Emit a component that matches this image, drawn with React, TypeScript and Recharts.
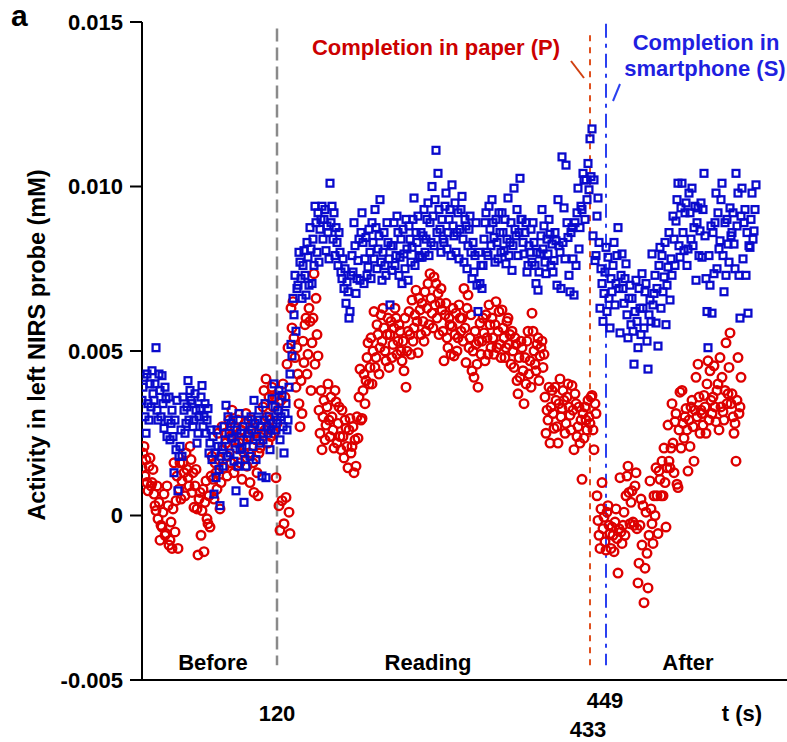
import { ScatterChart, Scatter, XAxis, YAxis, ReferenceLine } from "recharts";

// activity values in units of 0.001 mM, one sample per second starting at t = -15 s
const sampleStart = -15;
const samplePeriod = 1;

const paperValues = [
  1.45, 1.9, 2.1, 1.2, 1.7, 1.0, 0.75, 1.5, 1.75, 0.9,
  1.0, 1.4, 0.65, 0.3, 0.15, 0.9, -0.1, 0.4, -0.75, -0.3,
  -0.35, 0.1, 0.65, -0.6, -0.55, 0.9, 0.3, -0.9, -0.75, -0.2,
  -1.0, 0.2, 1.6, -0.5, 0.45, 1.2, -1.0, 0.8, 1.6, 0.5,
  1.05, 1.6, 1.3, 0.6, 1.9, 1.4, 1.15, 0.9, 2.1, 1.7,
  0.7, 1.3, 0.25, 0.9, 1.4, 0.2, -1.2, 0.5, 0.7, -0.6,
  0.15, 0.8, -1.1, 0.4, 1.05, -0.1, -0.25, 0.6, -0.35, 1.2,
  1.8, 1.1, 0.5, 1.6, 1.3, 0.8, 2.5, 1.7, 0.2, 1.0,
  2.7, 2.0, 1.45, 2.5, 2.2, 1.2, 1.8, 2.9, 2.4, 1.6,
  3.2, 2.4, 1.3, 2.7, 2.05, 1.5, 2.9, 2.2, 1.6, 2.6,
  1.1, 2.3, 1.9, 2.8, 3.1, 1.5, 2.4, 1.9, 1.0, 2.6,
  2.9, 1.6, 0.7, 2.5, 2.3, 1.3, 0.6, 1.9, 2.05, 2.7,
  2.5, 3.3, 3.8, 2.6, 4.15, 3.0, 2.2, 3.6, 2.9, 2.4,
  3.9, 3.3, 2.5, 3.6, 1.15, 2.8, 3.2, 0.3, -0.45, 3.5,
  0.45, 4.0, -0.25, 3.6, 0.55, 4.6, 5.1, 0.1, -0.55, 6.3,
  5.7, 6.5, 5.4, 4.8, 3.9, 5.1, 4.3, 3.4, 2.7, 4.1,
  3.1, 5.3, 4.65, 5.8, 6.0, 4.3, 4.9, 6.3, 5.9, 3.8,
  5.25, 6.0, 7.35, 4.6, 6.6, 5.5, 4.85, 3.2, 2.5, 3.8,
  2.0, 3.0, 3.5, 2.3, 2.75, 3.3, 4.0, 2.9, 2.4, 3.6,
  3.0, 2.6, 2.05, 3.8, 3.45, 2.2, 2.8, 3.3, 2.4, 2.0,
  3.2, 2.4, 1.75, 2.9, 2.65, 2.1, 1.45, 2.6, 2.95, 1.9,
  2.1, 2.7, 1.3, 2.3, 1.5, 3.0, 2.35, 3.6, 4.45, 2.9,
  2.95, 3.8, 4.3, 3.4, 4.1, 4.8, 5.25, 4.0, 4.5, 5.4,
  4.0, 5.0, 6.2, 4.5, 4.8, 5.8, 5.5, 4.3, 5.1, 6.1,
  5.3, 6.3, 5.7, 5.0, 4.7, 5.5, 6.0, 4.5, 5.5, 5.9,
  4.8, 5.2, 5.7, 6.3, 6.0, 4.9, 5.3, 5.8, 5.6, 5.0,
  4.7, 5.3, 4.4, 6.0, 3.9, 5.0, 5.6, 6.2, 5.5, 4.9,
  6.55, 5.3, 5.7, 6.1, 6.85, 5.9, 4.95, 6.6, 6.25, 5.5,
  6.45, 5.9, 5.3, 6.8, 5.6, 6.3, 7.05, 5.8, 7.35, 6.6,
  6.15, 5.7, 7.25, 6.4, 7.05, 6.0, 6.75, 5.5, 6.45, 6.9,
  6.25, 5.6, 4.7, 6.1, 6.45, 5.4, 5.1, 6.0, 5.8, 4.9,
  5.75, 6.3, 4.85, 5.5, 6.15, 5.0, 5.4, 6.4, 6.0, 5.6,
  6.0, 5.3, 6.9, 5.7, 4.65, 6.3, 6.7, 5.1, 5.4, 6.1,
  4.4, 5.0, 4.2, 5.6, 5.2, 4.6, 3.9, 5.3, 5.85, 4.9,
  5.3, 6.0, 5.55, 4.7, 6.1, 5.4, 4.9, 6.4, 5.8, 5.1,
  6.0, 5.4, 4.9, 5.8, 6.5, 5.1, 5.6, 6.2, 5.2, 4.8,
  6.25, 5.7, 5.4, 4.8, 5.1, 5.9, 6.0, 5.2, 5.5, 4.6,
  5.6, 5.0, 4.5, 5.4, 5.2, 4.1, 3.7, 4.8, 4.2, 5.3,
  5.1, 4.4, 3.4, 4.8, 4.0, 5.3, 5.6, 4.3, 4.7, 3.9,
  6.15, 5.6, 5.0, 4.6, 4.4, 5.2, 5.4, 4.1, 4.85, 5.1,
  5.3, 4.5, 4.9, 3.6, 2.5, 3.2, 2.9, 3.9, 2.2, 3.3,
  3.8, 3.1, 2.65, 3.9, 3.5, 2.7, 2.2, 3.4, 4.15, 3.0,
  3.25, 3.8, 3.5, 2.5, 2.8, 3.6, 4.0, 3.3, 3.05, 2.6,
  3.95, 3.2, 2.0, 3.7, 3.4, 2.4, 2.7, 3.3, 2.2, 2.9,
  1.1, 3.1, 2.35, 3.3, 2.9, 2.6, 3.5, 3.0, 2.8, 3.6,
  3.65, 2.6, 2.0, 3.4, 3.1, 0.6, -0.15, -0.6, -1.0, 0.2,
  1.0, -0.4, -0.05, -0.8, -1.05, 0.1, 0.3, -0.3, -0.55, -1.0,
  -0.35, -0.6, -1.1, -0.2, 0.2, -0.7, -1.75, -0.4, 1.15, -0.5,
  -0.85, -0.3, 0.1, -0.6, 0.6, 1.2, 1.5, 0.7, -0.25, 0.4,
  0.75, -0.2, -0.3, 0.9, 1.3, -0.4, -2.05, -1.45, -0.3, 0.5,
  -0.9, 0.3, -2.65, -1.6, 0.1, -1.15, -2.2, -0.6, 1.05, 0.2,
  -0.25, -0.85, 0.6, 0.0, 1.45, 0.6, -0.55, 1.35, 1.1, 0.6,
  1.65, 0.6, 2.05, 1.0, -0.35, 1.45, 2.75, 1.65, 1.45, 2.05,
  3.4, 2.2, 1.3, 2.85, 3.1, 0.95, 0.85, 2.6, 3.75, 2.05,
  3.8, 2.8, 2.35, 3.0, 3.25, 2.6, 1.35, 2.9, 2.1, 3.3,
  3.5, 2.7, 1.65, 3.2, 4.2, 3.0, 4.6, 3.6, 2.5, 3.2,
  3.1, 2.75, 3.65, 3.3, 2.5, 4.0, 4.7, 2.9, 4.4, 3.5,
  3.1, 3.6, 4.55, 3.3, 2.85, 3.8, 4.0, 2.6, 4.8, 3.3,
  4.2, 3.15, 2.9, 3.8, 5.25, 3.4, 3.7, 4.5, 5.55, 3.4,
  3.7, 3.0, 2.5, 2.8, 1.65, 3.5, 4.8, 3.1, 3.3, 4.2,
];

const phoneValues = [
  3.5, 3.9, 4.2, 3.0, 2.5, 4.3, 3.4, 2.9, 4.0, 3.3,
  4.4, 3.7, 3.5, 4.0, 5.1, 3.2, 2.9, 4.3, 3.8, 3.0,
  4.25, 3.4, 2.65, 3.9, 3.55, 2.4, 2.9, 3.6, 2.3, 2.8,
  3.2, 2.4, 1.3, 2.9, 2.0, 3.5, 0.75, 1.8, 2.1, 2.6,
  1.8, 3.6, 3.2, 2.5, 2.8, 3.3, 4.1, 2.9, 3.8, 3.5,
  3.4, 2.7, 2.9, 3.7, 3.2, 2.2, 2.5, 3.0, 3.25, 3.6,
  3.95, 2.7, 3.0, 3.4, 2.5, 2.9, 3.25, 1.9, 2.2, 2.6,
  1.7, 2.4, 0.65, 1.9, 1.15, 2.6, 2.1, 1.4, 0.3, 1.8,
  2.1, 1.5, 2.7, 2.3, 3.35, 1.8, 3.0, 2.5, 1.9, 2.8,
  2.35, 2.9, 1.65, 2.2, 0.75, 2.6, 1.5, 3.1, 2.0, 2.5,
  2.05, 2.7, 0.4, 1.7, 1.5, 2.3, 2.9, 2.5, 1.8, 3.0,
  2.6, 2.1, 3.5, 2.8, 1.7, 2.4, 2.9, 3.2, 2.2, 2.7,
  1.2, 2.3, 2.9, 3.4, 1.15, 2.7, 2.5, 3.0, 2.0, 2.6,
  3.55, 2.8, 4.0, 3.3, 2.6, 2.9, 3.2, 3.8, 2.3, 3.0,
  3.65, 2.7, 1.9, 3.1, 3.4, 2.6, 2.9, 3.9, 4.3, 5.2,
  4.85, 6.6, 6.1, 7.3, 5.6, 6.9, 7.0, 8.0, 7.7, 7.2,
  6.6, 7.6, 8.05, 7.3, 6.7, 8.3, 7.85, 7.0, 8.75, 8.1,
  7.05, 8.4, 7.6, 9.4, 8.9, 8.0, 9.2, 7.7, 8.7, 9.0,
  9.4, 8.4, 9.0, 9.3, 8.05, 8.8, 8.6, 7.8, 10.1, 8.9,
  9.4, 8.4, 9.2, 7.9, 8.75, 8.3, 7.6, 8.6, 8.0, 7.4,
  7.2, 7.8, 6.9, 7.5, 6.45, 7.1, 6.8, 6.0, 6.2, 7.3,
  7.9, 7.4, 8.9, 8.2, 6.75, 7.2, 7.75, 8.4, 7.15, 8.6,
  9.2, 8.3, 7.05, 7.8, 8.45, 7.3, 7.55, 8.7, 8.0, 7.2,
  8.9, 8.3, 7.8, 9.3, 8.75, 7.5, 8.1, 8.5, 9.6, 7.7,
  7.15, 8.0, 8.6, 7.6, 7.3, 8.9, 8.3, 7.8, 6.4, 8.2,
  7.45, 8.2, 8.9, 7.6, 7.9, 9.1, 8.6, 7.3, 7.85, 8.4,
  7.05, 8.7, 7.95, 7.5, 9.0, 8.1, 7.15, 8.8, 8.4, 7.7,
  8.15, 9.0, 9.65, 7.6, 8.6, 8.3, 9.1, 7.9, 7.85, 8.6,
  7.85, 8.5, 9.3, 8.0, 8.4, 9.0, 9.5, 7.9, 8.9, 8.3,
  10.0, 9.1, 8.2, 9.6, 11.1, 8.6, 10.4, 9.3, 8.7, 8.0,
  9.0, 8.4, 8.3, 9.4, 9.8, 8.1, 8.6, 9.0, 9.3, 7.9,
  10.05, 8.8, 8.5, 9.5, 8.0, 8.6, 9.2, 7.8, 8.7, 9.3,
  9.7, 8.4, 7.7, 9.0, 8.8, 7.5, 8.2, 8.7, 9.1, 8.0,
  7.2, 8.3, 7.4, 7.9, 8.9, 7.0, 6.2, 8.0, 7.05, 7.6,
  6.9, 7.6, 8.4, 8.9, 9.2, 8.0, 7.9, 9.4, 8.7, 8.2,
  9.6, 8.9, 8.45, 7.7, 9.0, 8.3, 7.8, 9.2, 8.6, 8.0,
  9.2, 8.6, 8.05, 9.0, 7.65, 8.4, 9.65, 7.9, 8.3, 8.9,
  7.45, 8.2, 9.95, 8.7, 8.5, 9.3, 7.9, 8.6, 10.25, 9.0,
  9.0, 8.3, 7.95, 8.6, 8.9, 7.4, 7.6, 8.2, 8.0, 8.7,
  7.7, 8.9, 8.3, 7.6, 7.05, 8.0, 6.85, 7.4, 7.95, 8.5,
  9.3, 8.1, 8.8, 7.7, 7.35, 8.4, 7.95, 9.0, 8.55, 7.6,
  8.25, 7.4, 7.75, 8.6, 8.35, 7.0, 9.6, 8.2, 8.0, 6.9,
  10.9, 8.3, 9.35, 7.8, 10.65, 8.9, 8.45, 7.3, 6.8, 8.6,
  8.75, 7.8, 6.7, 8.9, 7.6, 9.2, 9.95, 8.1, 8.75, 9.4,
  9.3, 10.4, 10.2, 9.0, 10.2, 9.6, 10.7, 9.9, 11.45, 10.3,
  11.75, 8.5, 10.2, 7.75, 7.9, 9.1, 9.65, 8.3, 6.3, 7.5,
  7.05, 5.9, 6.75, 7.4, 8.15, 6.2, 7.85, 6.6, 5.7, 7.2,
  6.8, 7.6, 8.3, 6.4, 7.05, 7.9, 8.75, 6.9, 5.55, 7.3,
  7.95, 6.9, 6.45, 7.2, 7.65, 6.1, 5.4, 6.6, 7.0, 5.8,
  6.6, 5.6, 4.6, 6.2, 7.15, 5.9, 5.1, 6.9, 6.3, 5.5,
  7.35, 6.3, 5.7, 6.8, 7.05, 5.3, 4.45, 6.1, 6.55, 5.9,
  7.95, 6.4, 6.75, 7.3, 5.85, 6.9, 5.15, 7.6, 8.15, 6.3,
  7.9, 6.8, 7.25, 8.3, 5.8, 7.0, 7.55, 8.6, 6.55, 7.8,
  7.3, 9.1, 8.4, 7.6, 8.95, 9.6, 10.1, 8.2, 7.85, 9.35,
  10.1, 8.6, 8.05, 9.2, 9.5, 7.6, 8.1, 9.8, 9.2, 8.4,
  9.95, 8.2, 8.75, 9.4, 7.15, 8.9, 9.35, 7.9, 8.65, 9.5,
  7.85, 9.3, 10.4, 8.5, 7.2, 6.2, 5.1, 7.9, 7.0, 8.8,
  6.15, 8.6, 7.35, 8.9, 9.8, 7.5, 9.2, 8.1, 8.35, 9.6,
  10.1, 7.9, 6.8, 8.9, 7.3, 9.0, 8.25, 7.7, 9.35, 8.5,
  8.6, 9.2, 8.25, 7.5, 10.4, 8.8, 9.8, 7.3, 6.0, 9.1,
  9.95, 7.8, 8.9, 9.3, 7.3, 8.6, 6.15, 8.2, 8.15, 9.0,
  9.8, 8.4, 8.65, 9.3, 10.05,
];

const yTicks = [-5, 0, 5, 10, 15];
const xTicks = [120, 433, 449];
const readingStart = 120;
const paperDone = 433;
const phoneDone = 449;

const toPoints = (values: number[]) =>
  values.map((v, i) => ({ t: sampleStart + i * samplePeriod, v }));

const paperData = toPoints(paperValues);
const phoneData = toPoints(phoneValues);

const FONT = '"Liberation Sans", Arial, sans-serif';
const RED = "#dd0000";
const BLUE = "#0a0acc";

const PaperMark = (p: any) => (
  <circle cx={p.cx} cy={p.cy} r={4.3} fill="none" stroke={RED} strokeWidth={2.4} />
);
const PhoneMark = (p: any) => (
  <rect x={p.cx - 3.4} y={p.cy - 3.4} width={6.8} height={6.8} fill="none" stroke={BLUE} strokeWidth={2.3} />
);

const fmtY = (v: number) => (v === 0 ? "0" : (v / 1000).toFixed(3));

const YTick = (p: any) => (
  <text x={p.x - 5} y={p.y} dy="0.36em" textAnchor="end" fontFamily={FONT} fontWeight="bold" fontSize={22} fill="#000">
    {fmtY(p.payload.value)}
  </text>
);

const xTickPos: Record<number, { dx: number; dy: number }> = {
  120: { dx: 0, dy: 41 },
  433: { dx: -2, dy: 57 },
  449: { dx: -1, dy: 28 },
};

const XTick = (p: any) => {
  const o = xTickPos[p.payload.value] || { dx: 0, dy: 41 };
  return (
    <text x={p.x + o.dx} y={p.y + o.dy} textAnchor="middle" fontFamily={FONT} fontWeight="bold" fontSize={22} fill="#000">
      {p.payload.value}
    </text>
  );
};

const label = (extra: React.CSSProperties): React.CSSProperties => ({
  position: "absolute",
  fontFamily: FONT,
  fontWeight: "bold",
  fontSize: 22,
  whiteSpace: "nowrap",
  lineHeight: 1,
  ...extra,
});

export default function App() {
  return (
    <div style={{ position: "absolute", left: 0, top: 0, width: 787, height: 742, background: "#fff", overflow: "hidden" }}>
      <ScatterChart width={787} height={742} margin={{ top: 22, right: 0, bottom: 0, left: 0 }}>
        <XAxis
          type="number"
          dataKey="t"
          domain={[-15, 630]}
          ticks={xTicks}
          interval={0}
          tick={XTick}
          tickLine={false}
          tickSize={0}
          tickMargin={0}
          axisLine={{ stroke: "#000", strokeWidth: 2 }}
          height={62}
          allowDataOverflow
        />
        <YAxis
          type="number"
          dataKey="v"
          domain={[-5, 15]}
          ticks={yTicks}
          interval={0}
          width={142}
          tickSize={12}
          tickLine={{ stroke: "#000", strokeWidth: 2 }}
          axisLine={{ stroke: "#000", strokeWidth: 2 }}
          tick={YTick}
        />
        <ReferenceLine
          segment={[{ x: readingStart, y: 14.8 }, { x: readingStart, y: -4.55 }]}
          stroke="#8a8a8a"
          strokeWidth={2.5}
          strokeDasharray="13 6"
        />
        <ReferenceLine
          segment={[{ x: paperDone, y: 14.6 }, { x: paperDone, y: -4.55 }]}
          stroke="#e0501e"
          strokeWidth={2}
          strokeDasharray="6 6"
        />
        <ReferenceLine
          segment={[{ x: phoneDone, y: 14.95 }, { x: phoneDone, y: -4.55 }]}
          stroke="#2a40f0"
          strokeWidth={2}
          strokeDasharray="14 6 4 6"
        />
        <Scatter data={paperData} shape={PaperMark} isAnimationActive={false} />
        <Scatter data={phoneData} shape={PhoneMark} isAnimationActive={false} />
      </ScatterChart>

      <svg width={787} height={742} style={{ position: "absolute", left: 0, top: 0, pointerEvents: "none" }}>
        <line x1={571} y1={61} x2={584} y2={78} stroke="#d04010" strokeWidth={2} />
        <line x1={620} y1={84} x2={613} y2={101} stroke="#2a40f0" strokeWidth={2} />
      </svg>

      <div style={label({ left: 11, top: 1, fontSize: 30 })}>a</div>
      <div style={label({ left: 38, top: 345, fontSize: 23.5, transform: "translate(-50%, -50%) rotate(-90deg)" })}>
        Activity in left NIRS probe (mM)
      </div>
      <div style={label({ left: 436, top: 48, transform: "translate(-50%, -50%)", color: "#cc0000" })}>
        Completion in paper (P)
      </div>
      <div style={label({ left: 706, top: 43, transform: "translate(-50%, -50%)", color: "#1f1fe0" })}>Completion in</div>
      <div style={label({ left: 705, top: 69, transform: "translate(-50%, -50%)", color: "#1f1fe0" })}>smartphone (S)</div>
      <div style={label({ left: 213, top: 663, transform: "translate(-50%, -50%)" })}>Before</div>
      <div style={label({ left: 428, top: 663, transform: "translate(-50%, -50%)" })}>Reading</div>
      <div style={label({ left: 688, top: 663, transform: "translate(-50%, -50%)" })}>After</div>
      <div style={label({ left: 742, top: 714, transform: "translate(-50%, -50%)" })}>t (s)</div>
    </div>
  );
}
